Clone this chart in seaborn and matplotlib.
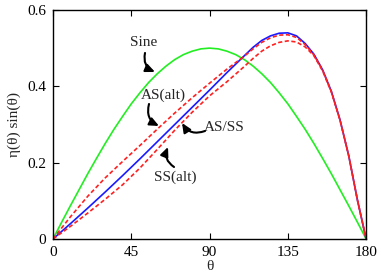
import numpy as np
import pandas as pd
import matplotlib
matplotlib.use("Agg")
import matplotlib.pyplot as plt
import seaborn as sns

theta = [0, 10, 20, 30, 40, 50, 60, 70, 80, 90, 100, 110, 115, 120, 125, 130,
         135, 140, 145, 150, 155, 160, 165, 170, 175, 180]
theta_sine = [0, 5, 10, 15, 20, 25, 30, 35, 40, 45, 50, 55, 60, 65, 70, 75, 80, 85,
              90, 95, 100, 105, 110, 115, 120, 125, 130, 135, 140, 145, 150, 155,
              160, 165, 170, 175, 180]
sine = [0, 0.044, 0.087, 0.129, 0.171, 0.211, 0.25, 0.287, 0.321, 0.354, 0.383,
        0.410, 0.433, 0.453, 0.470, 0.483, 0.492, 0.498, 0.5, 0.498, 0.492, 0.483,
        0.470, 0.453, 0.433, 0.410, 0.383, 0.354, 0.321, 0.287, 0.25, 0.211,
        0.171, 0.129, 0.087, 0.044, 0]
as_ss = [0, 0.040, 0.081, 0.123, 0.166, 0.210, 0.255, 0.300, 0.345, 0.390, 0.436,
         0.480, 0.502, 0.520, 0.532, 0.539, 0.540, 0.532, 0.512, 0.484, 0.443,
         0.387, 0.312, 0.218, 0.102, 0]
as_alt = [0, 0.058, 0.112, 0.160, 0.203, 0.245, 0.288, 0.330, 0.370, 0.408, 0.445,
          0.479, 0.498, 0.515, 0.527, 0.534, 0.535, 0.528, 0.509, 0.482, 0.442,
          0.386, 0.311, 0.218, 0.102, 0]
ss_alt = [0, 0.033, 0.068, 0.104, 0.142, 0.186, 0.235, 0.285, 0.332, 0.375, 0.412,
          0.452, 0.473, 0.492, 0.506, 0.515, 0.519, 0.516, 0.503, 0.480, 0.440,
          0.385, 0.311, 0.218, 0.102, 0]

xticks = [0, 45, 90, 135, 180]
yticks = [0, 0.2, 0.4, 0.6]
yticklabels = ["0", "0.2", "0.4", "0.6"]

sns.set_theme(style="ticks")
plt.rcParams['font.family'] = ['Liberation Serif', 'DejaVu Serif']

fig = plt.figure(figsize=(3.81, 2.76), dpi=100)
ax = fig.add_axes([0.139, 0.134, 0.822, 0.830])

df_sine = pd.DataFrame({"theta": theta_sine, "v": sine})
df_main = pd.DataFrame({"theta": theta, "as_ss": as_ss, "as_alt": as_alt, "ss_alt": ss_alt})

sns.lineplot(data=df_sine, x="theta", y="v", ax=ax, color="#22ee22", lw=1.2)
sns.lineplot(data=df_main, x="theta", y="as_ss", ax=ax, color="#1a1aff", lw=1.2)
sns.lineplot(data=df_main, x="theta", y="as_alt", ax=ax, color="#ff2020", lw=1.2,
             linestyle=(0, (2.5, 1.5)))
sns.lineplot(data=df_main, x="theta", y="ss_alt", ax=ax, color="#ff2020", lw=1.2,
             linestyle=(0, (2.5, 1.5)))

ax.set_xlim(0, 180)
ax.set_ylim(0, 0.6)
ax.set_xticks(xticks)
ax.set_xticklabels([str(t) for t in xticks])
ax.set_yticks(yticks)
ax.set_yticklabels(yticklabels)
ax.tick_params(direction="in", top=True, right=True, length=4, width=0.8,
               labelsize=11, colors="black", pad=5)
for s in ax.spines.values():
    s.set_color("black")
    s.set_linewidth(1.0)
ax.set_xlabel("θ", fontsize=11, labelpad=1)
ax.set_ylabel("η(θ) sin(θ)", fontsize=11, labelpad=4)

def px2data(px, py):
    return ((px - 53) / 1.739, (239 - py) / 381.7)

arrow = dict(arrowstyle="-|>,head_length=0.45,head_width=0.2", color="black", lw=1.5,
             shrinkA=0, shrinkB=0)

ax.text(*px2data(144, 43), "Sine", fontsize=11, ha="center", va="center")
ax.annotate("", xy=px2data(155, 72), xytext=px2data(145, 53),
            arrowprops=dict(arrow, connectionstyle="arc3,rad=0.4"))

ax.text(*px2data(163, 95), "AS(alt)", fontsize=11, ha="center", va="center")
ax.annotate("", xy=px2data(159, 126), xytext=px2data(149, 104),
            arrowprops=dict(arrow, connectionstyle="arc3,rad=0.4"))

ax.text(*px2data(224, 128), "AS/SS", fontsize=11, ha="center", va="center")
ax.annotate("", xy=px2data(182, 123), xytext=px2data(205, 131),
            arrowprops=dict(arrow, connectionstyle="arc3,rad=-0.4"))

ax.text(*px2data(175, 177), "SS(alt)", fontsize=11, ha="center", va="center")
ax.annotate("", xy=px2data(168, 147), xytext=px2data(174, 167),
            arrowprops=dict(arrow, connectionstyle="arc3,rad=-0.4"))

fig.savefig("out.png", dpi=100)
